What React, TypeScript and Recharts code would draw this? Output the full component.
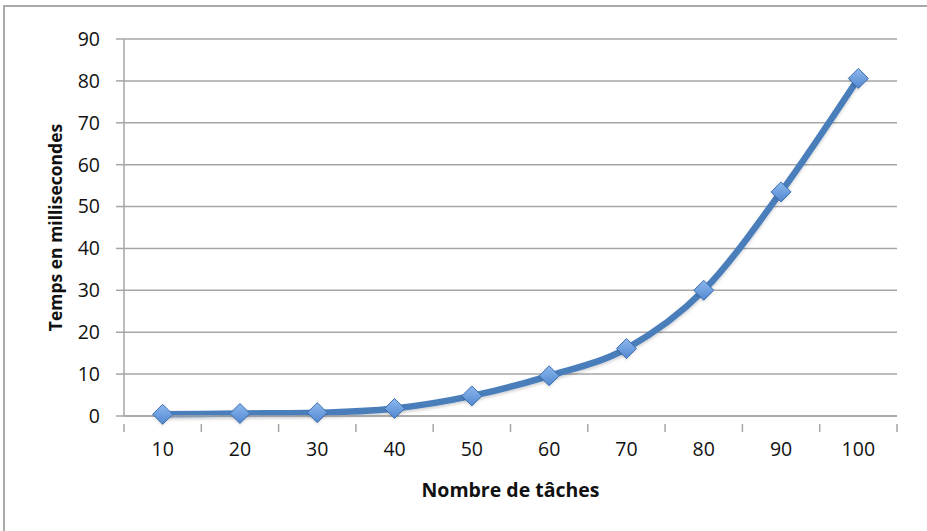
import React from 'react';
import { LineChart, Line, XAxis, YAxis, CartesianGrid, Label } from 'recharts';

// Nombre de tâches (x) et temps mesuré en millisecondes (y)
const taskCounts = [10, 20, 30, 40, 50, 60, 70, 80, 90, 100];
const timesMs = [0.4, 0.6, 0.8, 1.8, 4.8, 9.6, 16.1, 30.0, 53.5, 80.6];
const yTicks = [0, 10, 20, 30, 40, 50, 60, 70, 80, 90];
// Graduations de l'axe X : libellés au centre, traits aux frontières des catégories
const xTicks = [5, 10, 15, 20, 25, 30, 35, 40, 45, 50, 55, 60, 65, 70, 75, 80, 85, 90, 95, 100, 105];

const data = taskCounts.map((n, i) => ({ n, t: timesMs[i] }));

const FONT = '"Open Sans", "Noto Sans", sans-serif';
const GRID = '#a6a6a6';
const LINE = '#4a7ebb';

const Diamond = (props: any) => {
  const { cx, cy, index } = props;
  if (cx == null || cy == null) return null;
  const r = 10;
  return (
    <g key={`d-${index}`}>
      <polygon
        points={`${cx},${cy - r + 2} ${cx + r},${cy + 2} ${cx},${cy + r + 2} ${cx - r},${cy + 2}`}
        fill="rgba(0,0,0,0.12)"
        filter="url(#soft)"
      />
      <polygon
        points={`${cx},${cy - r} ${cx + r},${cy} ${cx},${cy + r} ${cx - r},${cy}`}
        fill="url(#diamondFill)"
        stroke="#3d6fb0"
        strokeWidth={1}
      />
    </g>
  );
};

const XTick = (props: any) => {
  const { x, y, payload } = props;
  const v = payload.value as number;
  if (v % 10 === 5) {
    return <line x1={x} x2={x} y1={y} y2={y + 8} stroke={GRID} strokeWidth={1.5} />;
  }
  return (
    <text x={x} y={y + 27} textAnchor="middle" dominantBaseline="middle" fill="#111" fontSize={19.5} fontFamily={FONT}>
      {v}
    </text>
  );
};

export default function App() {
  return (
    <div style={{ position: 'absolute', left: 0, top: 0, width: 927, height: 531, background: '#fff' }}>
      <div
        style={{
          position: 'absolute',
          left: 3,
          top: 5,
          right: 0,
          bottom: 0,
          borderLeft: '2px solid #a9a9a9',
          borderTop: '2px solid #a9a9a9',
        }}
      />
      <LineChart
        width={927}
        height={531}
        data={data}
        margin={{ top: 39, right: 30, left: 0, bottom: 0 }}
        style={{ position: 'absolute', left: 0, top: 0 }}
      >
        <defs>
          <linearGradient id="diamondFill" x1="0" y1="0" x2="0" y2="1">
            <stop offset="0%" stopColor="#8db8ee" />
            <stop offset="100%" stopColor="#5288d0" />
          </linearGradient>
          <filter id="soft" x="-50%" y="-50%" width="200%" height="200%">
            <feGaussianBlur stdDeviation="1.5" />
          </filter>
          <filter id="lineShadow" x="-5%" y="-5%" width="110%" height="110%">
            <feDropShadow dx="0" dy="2" stdDeviation="1.5" floodColor="#000" floodOpacity="0.18" />
          </filter>
        </defs>
        <CartesianGrid vertical={false} stroke={GRID} strokeWidth={1.5} />
        <XAxis
          dataKey="n"
          type="number"
          domain={[5, 105]}
          ticks={xTicks}
          interval={0}
          height={115}
          axisLine={{ stroke: GRID, strokeWidth: 1.5 }}
          tickLine={false}
          tick={<XTick />}
        >
          <Label
            content={(p: any) => {
              const vb = p.viewBox;
              return (
                <text
                  x={vb.x + vb.width / 2}
                  y={vb.y + 76}
                  textAnchor="middle"
                  dominantBaseline="middle"
                  fontSize={19.5}
                  fontWeight="bold"
                  fontFamily={FONT}
                  fill="#111"
                >
                  Nombre de tâches
                </text>
              );
            }}
          />
        </XAxis>
        <YAxis
          type="number"
          domain={[0, 90]}
          ticks={yTicks}
          width={124}
          interval={0}
          axisLine={{ stroke: GRID, strokeWidth: 1.5 }}
          tickLine={{ stroke: GRID, strokeWidth: 1.5 }}
          tickSize={8}
          tickMargin={16}
          tick={{ fill: '#111', fontSize: 19.5, fontFamily: FONT }}
        >
          <Label
            content={(p: any) => {
              const vb = p.viewBox;
              const cx = vb.x + 57;
              const cy = vb.y + vb.height / 2;
              return (
                <text
                  x={cx}
                  y={cy}
                  transform={`rotate(-90, ${cx}, ${cy})`}
                  textAnchor="middle"
                  dominantBaseline="middle"
                  fontSize={17.5}
                  fontWeight="bold"
                  fontFamily={FONT}
                  fill="#111"
                >
                  Temps en millisecondes
                </text>
              );
            }}
          />
        </YAxis>
        <Line
          type="monotone"
          dataKey="t"
          stroke={LINE}
          strokeWidth={6.5}
          dot={<Diamond />}
          activeDot={false}
          isAnimationActive={false}
          style={{ filter: 'url(#lineShadow)' }}
        />
      </LineChart>
    </div>
  );
}
